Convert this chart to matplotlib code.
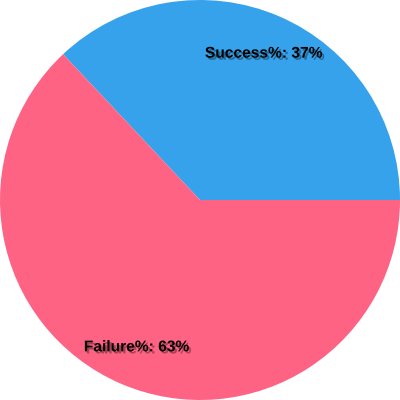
import numpy as np
import matplotlib.pyplot as plt
import matplotlib.patheffects as pe

# --- Data ---
labels = ["Success%", "Failure%"]
values = [37, 63]
colors = ["#36A2EB", "#FF6384"]

fig = plt.figure(figsize=(4, 4), dpi=100)
ax = fig.add_axes([0, 0, 1, 1])

ax.pie(values, colors=colors, startangle=0, counterclock=True,
       radius=1.0, wedgeprops=dict(linewidth=0))

# labels at 0.8 of the radius, in the middle of each slice
total = sum(values)
start = 0.0
for lab, v in zip(labels, values):
    mid = np.deg2rad(start + v / total * 360 / 2)
    start += v / total * 360
    ax.text(0.8 * np.cos(mid), 0.8 * np.sin(mid), f"{lab}: {v}%",
            ha="center", va="center", fontsize=11.2, fontweight="bold",
            family="Liberation Sans", color="black",
            path_effects=[pe.withSimplePatchShadow(offset=(1.5, -1.5),
                                                   shadow_rgbFace="black",
                                                   alpha=0.35)])

ax.set_xlim(-1, 1)
ax.set_ylim(-1, 1)
ax.set_aspect("equal")
ax.axis("off")

fig.savefig("out.png", dpi=100)
